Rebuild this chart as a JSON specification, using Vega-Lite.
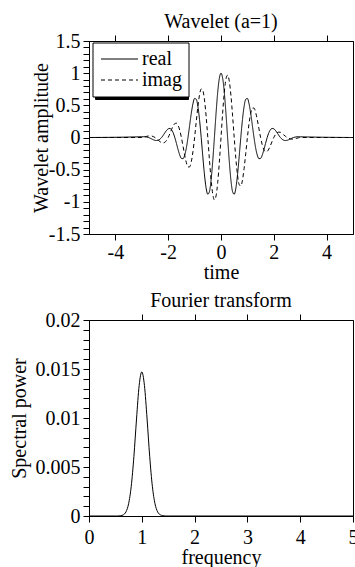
{
  "$schema": "https://vega.github.io/schema/vega-lite/v6.json",
  "padding": {"left": 8, "top": 11, "right": 0, "bottom": 0},
  "background": "white",
  "spacing": 7,
  "config": {
    "font": "Liberation Serif",
    "view": {"stroke": "black", "strokeWidth": 1},
    "axis": {
      "domainColor": "black", "tickColor": "black", "labelColor": "black", "titleColor": "black",
      "labelFont": "Liberation Serif", "titleFont": "Liberation Serif",
      "labelFontSize": 20, "titleFontSize": 20, "titleFontWeight": "normal",
      "grid": false, "tickSize": 6, "domainWidth": 1, "tickWidth": 1, "labelFlush": false
    },
    "title": {"font": "Liberation Serif", "fontSize": 20, "fontWeight": "normal", "color": "black", "offset": -1},
    "legend": {"labelFont": "Liberation Serif", "labelFontSize": 20, "labelColor": "black"}
  },
  "vconcat": [
    {
      "width": 264,
      "height": 193,
      "title": {"text": "Wavelet (a=1)"},
      "data": {"values": [
        {"t":-5,"real":0,"imag":0},
        {"t":-3,"real":0.011,"imag":0},
        {"t":-2.9375,"real":0.012,"imag":0.005},
        {"t":-2.875,"real":0.011,"imag":0.011},
        {"t":-2.8125,"real":0.007,"imag":0.018},
        {"t":-2.75,"real":0,"imag":0.023},
        {"t":-2.6875,"real":-0.01,"imag":0.025},
        {"t":-2.625,"real":-0.023,"imag":0.023},
        {"t":-2.5625,"real":-0.035,"imag":0.014},
        {"t":-2.5,"real":-0.044,"imag":0},
        {"t":-2.4375,"real":-0.047,"imag":-0.02},
        {"t":-2.375,"real":-0.042,"imag":-0.042},
        {"t":-2.3125,"real":-0.026,"imag":-0.064},
        {"t":-2.25,"real":0,"imag":-0.08},
        {"t":-2.1875,"real":0.035,"imag":-0.084},
        {"t":-2.125,"real":0.074,"imag":-0.074},
        {"t":-2.0625,"real":0.11,"imag":-0.046},
        {"t":-2,"real":0.135,"imag":0},
        {"t":-1.9375,"real":0.141,"imag":0.059},
        {"t":-1.875,"real":0.122,"imag":0.122},
        {"t":-1.8125,"real":0.074,"imag":0.179},
        {"t":-1.75,"real":0,"imag":0.216},
        {"t":-1.6875,"real":-0.092,"imag":0.222},
        {"t":-1.625,"real":-0.189,"imag":0.189},
        {"t":-1.5625,"real":-0.273,"imag":0.113},
        {"t":-1.5,"real":-0.325,"imag":0},
        {"t":-1.4375,"real":-0.329,"imag":-0.136},
        {"t":-1.375,"real":-0.275,"imag":-0.275},
        {"t":-1.3125,"real":-0.162,"imag":-0.39},
        {"t":-1.25,"real":0,"imag":-0.458},
        {"t":-1.1875,"real":0.189,"imag":-0.456},
        {"t":-1.125,"real":0.376,"imag":-0.376},
        {"t":-1.0625,"real":0.525,"imag":-0.218},
        {"t":-1,"real":0.607,"imag":0},
        {"t":-0.9375,"real":0.595,"imag":0.247},
        {"t":-0.875,"real":0.482,"imag":0.482},
        {"t":-0.8125,"real":0.275,"imag":0.664},
        {"t":-0.75,"real":0,"imag":0.755},
        {"t":-0.6875,"real":-0.302,"imag":0.729},
        {"t":-0.625,"real":-0.582,"imag":0.582},
        {"t":-0.5625,"real":-0.789,"imag":0.327},
        {"t":-0.5,"real":-0.882,"imag":0},
        {"t":-0.4375,"real":-0.84,"imag":-0.348},
        {"t":-0.375,"real":-0.659,"imag":-0.659},
        {"t":-0.3125,"real":-0.364,"imag":-0.88},
        {"t":-0.25,"real":0,"imag":-0.969},
        {"t":-0.1875,"real":0.376,"imag":-0.908},
        {"t":-0.125,"real":0.702,"imag":-0.702},
        {"t":-0.0625,"real":0.922,"imag":-0.382},
        {"t":0,"real":1,"imag":0},
        {"t":0.0625,"real":0.922,"imag":0.382},
        {"t":0.125,"real":0.702,"imag":0.702},
        {"t":0.1875,"real":0.376,"imag":0.908},
        {"t":0.25,"real":0,"imag":0.969},
        {"t":0.3125,"real":-0.364,"imag":0.88},
        {"t":0.375,"real":-0.659,"imag":0.659},
        {"t":0.4375,"real":-0.84,"imag":0.348},
        {"t":0.5,"real":-0.882,"imag":0},
        {"t":0.5625,"real":-0.789,"imag":-0.327},
        {"t":0.625,"real":-0.582,"imag":-0.582},
        {"t":0.6875,"real":-0.302,"imag":-0.729},
        {"t":0.75,"real":0,"imag":-0.755},
        {"t":0.8125,"real":0.275,"imag":-0.664},
        {"t":0.875,"real":0.482,"imag":-0.482},
        {"t":0.9375,"real":0.595,"imag":-0.247},
        {"t":1,"real":0.607,"imag":0},
        {"t":1.0625,"real":0.525,"imag":0.218},
        {"t":1.125,"real":0.376,"imag":0.376},
        {"t":1.1875,"real":0.189,"imag":0.456},
        {"t":1.25,"real":0,"imag":0.458},
        {"t":1.3125,"real":-0.162,"imag":0.39},
        {"t":1.375,"real":-0.275,"imag":0.275},
        {"t":1.4375,"real":-0.329,"imag":0.136},
        {"t":1.5,"real":-0.325,"imag":0},
        {"t":1.5625,"real":-0.273,"imag":-0.113},
        {"t":1.625,"real":-0.189,"imag":-0.189},
        {"t":1.6875,"real":-0.092,"imag":-0.222},
        {"t":1.75,"real":0,"imag":-0.216},
        {"t":1.8125,"real":0.074,"imag":-0.179},
        {"t":1.875,"real":0.122,"imag":-0.122},
        {"t":1.9375,"real":0.141,"imag":-0.059},
        {"t":2,"real":0.135,"imag":0},
        {"t":2.0625,"real":0.11,"imag":0.046},
        {"t":2.125,"real":0.074,"imag":0.074},
        {"t":2.1875,"real":0.035,"imag":0.084},
        {"t":2.25,"real":0,"imag":0.08},
        {"t":2.3125,"real":-0.026,"imag":0.064},
        {"t":2.375,"real":-0.042,"imag":0.042},
        {"t":2.4375,"real":-0.047,"imag":0.02},
        {"t":2.5,"real":-0.044,"imag":0},
        {"t":2.5625,"real":-0.035,"imag":-0.014},
        {"t":2.625,"real":-0.023,"imag":-0.023},
        {"t":2.6875,"real":-0.01,"imag":-0.025},
        {"t":2.75,"real":0,"imag":-0.023},
        {"t":2.8125,"real":0.007,"imag":-0.018},
        {"t":2.875,"real":0.011,"imag":-0.011},
        {"t":2.9375,"real":0.012,"imag":-0.005},
        {"t":3,"real":0.011,"imag":0},
        {"t":5,"real":0,"imag":0}
      ]},
      "transform": [{"fold": ["real", "imag"], "as": ["part", "value"]}],
      "layer": [
        {
          "mark": {"type": "line", "opacity": 0},
          "encoding": {
            "x": {"field": "t", "type": "quantitative",
              "axis": {"orient": "top", "values": [-4, -2, 0, 2, 4], "labels": false, "title": null, "tickSize": 6}},
            "color": {"field": "part", "type": "nominal",
              "scale": {"domain": ["imag", "real"], "range": ["black", "black"]},
              "legend": {"title": null, "orient": "none", "legendX": 6, "legendY": 4,
                "strokeColor": "black", "fillColor": "black", "padding": 6,
                "symbolType": "M-1,-0.26H1V0.26H-1Z", "symbolSize": 6480, "symbolStrokeWidth": 0,
                "symbolFillColor": "black", "symbolStrokeColor": "black", "symbolOpacity": 1,
                "labelExpr": "''", "labelOffset": 0, "rowPadding": -3, "clipHeight": 21}}
          }
        },
        {
          "mark": {"type": "line", "interpolate": "monotone", "color": "black", "strokeWidth": 1},
          "encoding": {
            "x": {"field": "t", "type": "quantitative",
              "scale": {"domain": [-5, 5], "nice": false, "zero": false},
              "axis": {"orient": "bottom", "values": [-4, -2, 0, 2, 4], "format": "~g",
                "labelExpr": "replace(datum.label, '−', '-')", "title": "time", "titlePadding": 0, "labelPadding": 2}},
            "y": {"field": "value", "type": "quantitative",
              "scale": {"domain": [-1.5, 1.5], "nice": false, "zero": false},
              "axis": {"orient": "left",
                "values": [-1.5,-1.4,-1.3,-1.2,-1.1,-1,-0.9,-0.8,-0.7,-0.6,-0.5,-0.4,-0.3,-0.2,-0.1,0,0.1,0.2,0.3,0.4,0.5,0.6,0.7,0.8,0.9,1,1.1,1.2,1.3,1.4,1.5],
                "format": "~g", "labelOverlap": false, "labelBound": false,
                "labelExpr": "abs(datum.value * 2 - round(datum.value * 2)) < 0.000001 ? replace(datum.label, '−', '-') : ''",
                "encoding": {"ticks": {"update": {"x2": {"signal": "abs(datum.value * 2 - round(datum.value * 2)) < 0.000001 ? -6 : -3"}}}},
                "title": "Wavelet amplitude", "labelPadding": 3, "titlePadding": -3}},
            "strokeDash": {"field": "part", "type": "nominal",
              "scale": {"domain": ["real", "imag"], "range": [[1, 0], [4, 3]]},
              "legend": {"title": null, "orient": "none", "legendX": 3.5, "legendY": 1.5,
                "strokeColor": "black", "fillColor": "white", "padding": 6,
                "symbolType": "stroke", "symbolSize": 1369, "symbolStrokeWidth": 1, "symbolStrokeColor": "black",
                "symbolOffset": 2, "labelOffset": 3.5, "rowPadding": -3, "clipHeight": 21}}
          }
        }
      ],
      "resolve": {"axis": {"x": "independent"}}
    },
    {
      "width": 264,
      "height": 196,
      "title": {"text": "Fourier transform"},
      "data": {"values": [
        {"f":0,"power":0},
        {"f":0.5,"power":0},
        {"f":0.55,"power":0},
        {"f":0.6,"power":0.00003},
        {"f":0.65,"power":0.00012},
        {"f":0.7,"power":0.00042},
        {"f":0.75,"power":0.00125},
        {"f":0.8,"power":0.00303},
        {"f":0.85,"power":0.00605},
        {"f":0.9,"power":0.0099},
        {"f":0.95,"power":0.01332},
        {"f":1,"power":0.0147},
        {"f":1.05,"power":0.01332},
        {"f":1.1,"power":0.0099},
        {"f":1.15,"power":0.00605},
        {"f":1.2,"power":0.00303},
        {"f":1.25,"power":0.00125},
        {"f":1.3,"power":0.00042},
        {"f":1.35,"power":0.00012},
        {"f":1.4,"power":0.00003},
        {"f":1.45,"power":0},
        {"f":1.5,"power":0},
        {"f":5,"power":0}
      ]},
      "layer": [
        {
          "mark": {"type": "line", "opacity": 0},
          "encoding": {
            "x": {"field": "f", "type": "quantitative",
              "axis": {"orient": "top", "values": [1, 2, 3, 4], "labels": false, "title": null, "tickSize": 6}}
          }
        },
        {
          "mark": {"type": "line", "interpolate": "monotone", "color": "black", "strokeWidth": 1},
          "encoding": {
            "x": {"field": "f", "type": "quantitative",
              "scale": {"domain": [0, 5], "nice": false},
              "axis": {"orient": "bottom", "values": [0, 1, 2, 3, 4, 5], "format": "~g", "title": "frequency", "titlePadding": 0, "labelPadding": 5}},
            "y": {"field": "power", "type": "quantitative",
              "scale": {"domain": [0, 0.02], "nice": false},
              "axis": {"orient": "left",
                "values": [0,0.001,0.002,0.003,0.004,0.005,0.006,0.007,0.008,0.009,0.01,0.011,0.012,0.013,0.014,0.015,0.016,0.017,0.018,0.019,0.02],
                "format": "~g", "labelOverlap": false, "labelBound": false,
                "labelExpr": "abs(datum.value * 200 - round(datum.value * 200)) < 0.000001 ? datum.label : ''",
                "encoding": {"ticks": {"update": {"x2": {"signal": "abs(datum.value * 200 - round(datum.value * 200)) < 0.000001 ? -6 : -3"}}}},
                "title": "Spectral power", "labelPadding": 3, "titlePadding": 6}}
          }
        }
      ],
      "resolve": {"axis": {"x": "independent"}}
    }
  ]
}
